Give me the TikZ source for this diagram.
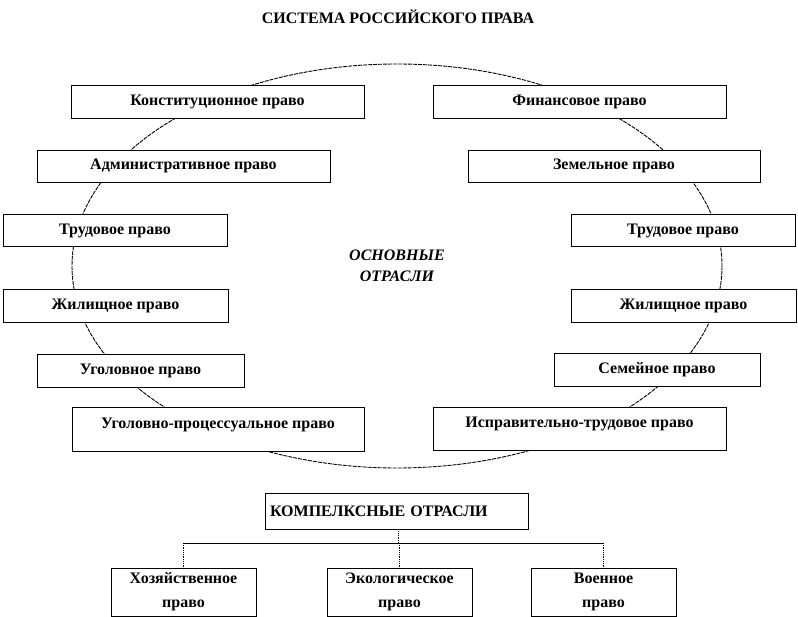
\documentclass[tikz,border=0pt]{standalone}
\usepackage{fontspec}
\setmainfont{Liberation Serif}
\begin{document}
\begin{tikzpicture}[x=1pt,y=-1pt]
\tikzstyle{every node}+=[font=\fontsize{16}{19}\selectfont\bfseries]
\tikzstyle{branch}=[draw=black,line width=0.8pt,fill=white,inner sep=0pt,minimum height=33pt]
\tikzstyle{lowtext}=[text height=11pt,text depth=12pt]
\tikzstyle{orbit}=[draw=black,line width=0.9pt,dash pattern=on 4pt off 1pt]
\useasboundingbox (0,0) rectangle (798,617);
\node (title) at (398,17) {СИСТЕМА РОССИЙСКОГО ПРАВА};
\coordinate (centre) at (397,266);
\draw [orbit] (centre) ellipse [x radius=325, y radius=202];
\node [align=center,font=\fontsize{16}{21}\selectfont\bfseries\itshape] (main) at (centre) {ОСНОВНЫЕ\\ОТРАСЛИ};
\node [branch,minimum width=293pt] (konst) at (217.5,101.5) {Конституционное право};
\node [branch,minimum width=293pt] (fin) at (579.5,101.5) {Финансовое право};
\node [branch,minimum width=293pt,minimum height=32pt] (admin) at (183.5,166) {Административное право};
\node [branch,minimum width=292pt,minimum height=32pt] (zem) at (614,166) {Земельное право};
\node [branch,minimum width=224pt,minimum height=32pt] (trudL) at (115,230.5) {Трудовое право};
\node [branch,minimum width=224pt,minimum height=32pt] (trudR) at (683,230.5) {Трудовое право};
\node [branch,minimum width=225pt] (zhilL) at (115.5,305.5) {Жилищное право};
\node [branch,minimum width=225pt] (zhilR) at (683.5,305.5) {Жилищное право};
\node [branch,minimum width=207pt] (ugol) at (140.5,370.5) {Уголовное право};
\node [branch,minimum width=206pt] (sem) at (657,369.5) {Семейное право};
\node [branch,lowtext,minimum width=292pt,minimum height=44pt] (ugproc) at (218,429) {Уголовно-процессуальное право};
\node [branch,lowtext,minimum width=293pt,minimum height=43pt] (ispr) at (579.5,428.5) {Исправительно-трудовое право};
\node [branch,minimum width=263pt,minimum height=36pt,text width=253pt,align=left] (kompl) at (396.5,511) {КОМПЕЛКСНЫЕ ОТРАСЛИ};
\node [branch,align=center,minimum width=145pt,minimum height=48pt] (hoz) at (183.5,592) {Хозяйственное\\[5pt]право};
\node [branch,align=center,minimum width=145pt,minimum height=48pt] (eco) at (399.5,592) {Экологическое\\[5pt]право};
\node [branch,align=center,minimum width=145pt,minimum height=48pt] (voen) at (603.5,592) {Военное\\[5pt]право};
\coordinate (fork) at (398,543);
\draw [line width=0.8pt,densely dotted] (kompl.south -| fork) -- (fork);
\draw [line width=0.8pt] (hoz.north |- fork) -- (voen.north |- fork);
\draw [line width=0.8pt,densely dotted] (hoz.north |- fork) -- (hoz.north);
\draw [line width=0.8pt,densely dotted] (eco.north |- fork) -- (eco.north);
\draw [line width=0.8pt,densely dotted] (voen.north |- fork) -- (voen.north);
\end{tikzpicture}
\end{document}
